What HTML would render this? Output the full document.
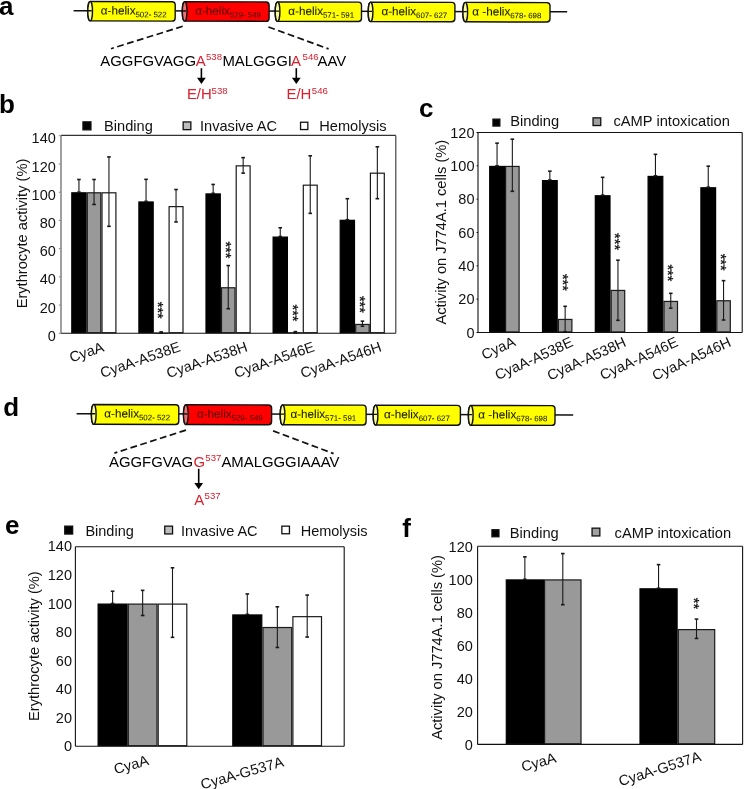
<!DOCTYPE html>
<html><head><meta charset="utf-8"><style>
html,body{margin:0;padding:0;background:#fff;}
svg{display:block;will-change:transform;}
text{font-family:"Liberation Sans", sans-serif;}
</style></head><body>
<svg width="744" height="789" viewBox="0 0 744 789">
<rect width="744" height="789" fill="#fff"/>
<g transform="rotate(0.14 87.8 10.7)">
<line x1="73.6" y1="10.7" x2="567.2" y2="10.7" stroke="#111" stroke-width="1.5"/>
<path d="M90.15,1.50 L172.00,1.50 Q175.20,1.50 175.20,4.70 L175.20,17.70 Q175.20,20.90 172.00,20.90 L90.15,20.90 A2.35,9.70 0 0 1 90.15,1.50 Z" fill="#ffff00" stroke="#111" stroke-width="1.4"/>
<ellipse cx="90.15" cy="11.20" rx="2.35" ry="9.70" fill="#ffff99" stroke="#111" stroke-width="1.4"/>
<line x1="86.80" y1="10.70" x2="91.70" y2="10.70" stroke="#111" stroke-width="1.4"/>
<path d="M184.65,1.50 L265.90,1.50 Q269.10,1.50 269.10,4.70 L269.10,17.70 Q269.10,20.90 265.90,20.90 L184.65,20.90 A2.35,9.70 0 0 1 184.65,1.50 Z" fill="#ff0000" stroke="#111" stroke-width="1.4"/>
<ellipse cx="184.65" cy="11.20" rx="2.35" ry="9.70" fill="#f07070" stroke="#111" stroke-width="1.4"/>
<line x1="181.30" y1="10.70" x2="186.20" y2="10.70" stroke="#111" stroke-width="1.4"/>
<path d="M277.55,1.50 L358.30,1.50 Q361.50,1.50 361.50,4.70 L361.50,17.70 Q361.50,20.90 358.30,20.90 L277.55,20.90 A2.35,9.70 0 0 1 277.55,1.50 Z" fill="#ffff00" stroke="#111" stroke-width="1.4"/>
<ellipse cx="277.55" cy="11.20" rx="2.35" ry="9.70" fill="#ffff99" stroke="#111" stroke-width="1.4"/>
<line x1="274.20" y1="10.70" x2="279.10" y2="10.70" stroke="#111" stroke-width="1.4"/>
<path d="M370.55,1.50 L451.70,1.50 Q454.90,1.50 454.90,4.70 L454.90,17.70 Q454.90,20.90 451.70,20.90 L370.55,20.90 A2.35,9.70 0 0 1 370.55,1.50 Z" fill="#ffff00" stroke="#111" stroke-width="1.4"/>
<ellipse cx="370.55" cy="11.20" rx="2.35" ry="9.70" fill="#ffff99" stroke="#111" stroke-width="1.4"/>
<line x1="367.20" y1="10.70" x2="372.10" y2="10.70" stroke="#111" stroke-width="1.4"/>
<path d="M465.25,1.50 L546.80,1.50 Q550.00,1.50 550.00,4.70 L550.00,17.70 Q550.00,20.90 546.80,20.90 L465.25,20.90 A2.35,9.70 0 0 1 465.25,1.50 Z" fill="#ffff00" stroke="#111" stroke-width="1.4"/>
<ellipse cx="465.25" cy="11.20" rx="2.35" ry="9.70" fill="#ffff99" stroke="#111" stroke-width="1.4"/>
<line x1="461.90" y1="10.70" x2="466.80" y2="10.70" stroke="#111" stroke-width="1.4"/>
<text x="100.8" y="14.5" font-size="11.7" fill="#1a1a00" stroke="#1a1a00" stroke-width="0.1">α-helix<tspan font-size="7.9" dy="2.7" stroke-width="0.05">502- 522</tspan></text>
<text x="195.2" y="14.5" font-size="11.7" fill="#5a0000" stroke="#5a0000" stroke-width="0.1">α-helix<tspan font-size="7.9" dy="2.7" stroke-width="0.05">529- 549</tspan></text>
<text x="288.3" y="14.5" font-size="11.7" fill="#1a1a00" stroke="#1a1a00" stroke-width="0.1">α-helix<tspan font-size="7.9" dy="2.7" stroke-width="0.05">571- 591</tspan></text>
<text x="381.4" y="14.5" font-size="11.7" fill="#1a1a00" stroke="#1a1a00" stroke-width="0.1">α-helix<tspan font-size="7.9" dy="2.7" stroke-width="0.05">607- 627</tspan></text>
<text x="472.3" y="14.5" font-size="11.7" fill="#1a1a00" stroke="#1a1a00" stroke-width="0.1">α -helix<tspan font-size="7.9" dy="2.7" stroke-width="0.05">678- 698</tspan></text>
</g>
<g transform="rotate(0.14 91.4 413.7)">
<line x1="76.6" y1="413.7" x2="573.2" y2="413.7" stroke="#111" stroke-width="1.5"/>
<path d="M93.75,404.50 L175.60,404.50 Q178.80,404.50 178.80,407.70 L178.80,421.10 Q178.80,424.30 175.60,424.30 L93.75,424.30 A2.35,9.90 0 0 1 93.75,404.50 Z" fill="#ffff00" stroke="#111" stroke-width="1.4"/>
<ellipse cx="93.75" cy="414.40" rx="2.35" ry="9.90" fill="#ffff99" stroke="#111" stroke-width="1.4"/>
<line x1="90.40" y1="413.70" x2="95.30" y2="413.70" stroke="#111" stroke-width="1.4"/>
<path d="M185.85,404.50 L268.40,404.50 Q271.60,404.50 271.60,407.70 L271.60,421.10 Q271.60,424.30 268.40,424.30 L185.85,424.30 A2.35,9.90 0 0 1 185.85,404.50 Z" fill="#ff0000" stroke="#111" stroke-width="1.4"/>
<ellipse cx="185.85" cy="414.40" rx="2.35" ry="9.90" fill="#f07070" stroke="#111" stroke-width="1.4"/>
<line x1="182.50" y1="413.70" x2="187.40" y2="413.70" stroke="#111" stroke-width="1.4"/>
<path d="M282.55,404.50 L362.90,404.50 Q366.10,404.50 366.10,407.70 L366.10,421.10 Q366.10,424.30 362.90,424.30 L282.55,424.30 A2.35,9.90 0 0 1 282.55,404.50 Z" fill="#ffff00" stroke="#111" stroke-width="1.4"/>
<ellipse cx="282.55" cy="414.40" rx="2.35" ry="9.90" fill="#ffff99" stroke="#111" stroke-width="1.4"/>
<line x1="279.20" y1="413.70" x2="284.10" y2="413.70" stroke="#111" stroke-width="1.4"/>
<path d="M375.55,404.50 L457.20,404.50 Q460.40,404.50 460.40,407.70 L460.40,421.10 Q460.40,424.30 457.20,424.30 L375.55,424.30 A2.35,9.90 0 0 1 375.55,404.50 Z" fill="#ffff00" stroke="#111" stroke-width="1.4"/>
<ellipse cx="375.55" cy="414.40" rx="2.35" ry="9.90" fill="#ffff99" stroke="#111" stroke-width="1.4"/>
<line x1="372.20" y1="413.70" x2="377.10" y2="413.70" stroke="#111" stroke-width="1.4"/>
<path d="M470.75,404.50 L551.80,404.50 Q555.00,404.50 555.00,407.70 L555.00,421.10 Q555.00,424.30 551.80,424.30 L470.75,424.30 A2.35,9.90 0 0 1 470.75,404.50 Z" fill="#ffff00" stroke="#111" stroke-width="1.4"/>
<ellipse cx="470.75" cy="414.40" rx="2.35" ry="9.90" fill="#ffff99" stroke="#111" stroke-width="1.4"/>
<line x1="467.40" y1="413.70" x2="472.30" y2="413.70" stroke="#111" stroke-width="1.4"/>
<text x="104.3" y="417.5" font-size="11.7" fill="#1a1a00" stroke="#1a1a00" stroke-width="0.1">α-helix<tspan font-size="7.9" dy="2.7" stroke-width="0.05">502- 522</tspan></text>
<text x="196.9" y="417.5" font-size="11.7" fill="#5a0000" stroke="#5a0000" stroke-width="0.1">α-helix<tspan font-size="7.9" dy="2.7" stroke-width="0.05">529- 549</tspan></text>
<text x="290.4" y="417.5" font-size="11.7" fill="#1a1a00" stroke="#1a1a00" stroke-width="0.1">α-helix<tspan font-size="7.9" dy="2.7" stroke-width="0.05">571- 591</tspan></text>
<text x="384.0" y="417.5" font-size="11.7" fill="#1a1a00" stroke="#1a1a00" stroke-width="0.1">α-helix<tspan font-size="7.9" dy="2.7" stroke-width="0.05">607- 627</tspan></text>
<text x="478.3" y="417.5" font-size="11.7" fill="#1a1a00" stroke="#1a1a00" stroke-width="0.1">α -helix<tspan font-size="7.9" dy="2.7" stroke-width="0.05">678- 698</tspan></text>
</g>
<g stroke="#111" stroke-width="1.7" stroke-dasharray="6.8,3.5">
<line x1="182.7" y1="26.3" x2="111.0" y2="48.7"/>
<line x1="268.4" y1="27.0" x2="328.6" y2="48.9"/>
<line x1="186.0" y1="430.1" x2="114.4" y2="453.1"/>
<line x1="273.1" y1="430.9" x2="333.6" y2="453.6"/>
</g>
<text x="100.30" y="66.10" font-size="14.9" fill="#000" text-anchor="start" font-weight="normal" >AGGFGVAGG</text>
<text x="195.80" y="66.10" font-size="14.9" fill="#d8202e" text-anchor="start" font-weight="normal" >A</text>
<text x="206.00" y="59.90" font-size="9.6" fill="#d8202e" text-anchor="start" font-weight="normal" >538</text>
<text x="222.40" y="66.10" font-size="14.9" fill="#000" text-anchor="start" font-weight="normal" >MALGGGI</text>
<text x="291.00" y="66.10" font-size="14.9" fill="#d8202e" text-anchor="start" font-weight="normal" >A</text>
<text x="302.60" y="59.90" font-size="9.6" fill="#d8202e" text-anchor="start" font-weight="normal" >546</text>
<text x="317.60" y="66.10" font-size="14.9" fill="#000" text-anchor="start" font-weight="normal" >AAV</text>
<line x1="201.4" y1="68.2" x2="201.4" y2="79.0" stroke="#000" stroke-width="1.6"/>
<path d="M197.0,77.8 L205.8,77.8 L201.4,84.0 Z" fill="#000"/>
<line x1="296.3" y1="68.2" x2="296.3" y2="79.0" stroke="#000" stroke-width="1.6"/>
<path d="M291.90000000000003,77.8 L300.7,77.8 L296.3,84.0 Z" fill="#000"/>
<text x="186.90" y="99.30" font-size="14.9" fill="#d8202e" text-anchor="start" font-weight="normal" >E/H</text>
<text x="211.60" y="93.60" font-size="9.6" fill="#d8202e" text-anchor="start" font-weight="normal" >538</text>
<text x="286.50" y="99.30" font-size="14.9" fill="#d8202e" text-anchor="start" font-weight="normal" >E/H</text>
<text x="311.80" y="93.60" font-size="9.6" fill="#d8202e" text-anchor="start" font-weight="normal" >546</text>
<text x="109.00" y="466.70" font-size="14.9" fill="#000" text-anchor="start" font-weight="normal" >AGGFGVAG</text>
<text x="193.40" y="466.70" font-size="14.9" fill="#d8202e" text-anchor="start" font-weight="normal" >G</text>
<text x="205.30" y="461.20" font-size="9.6" fill="#d8202e" text-anchor="start" font-weight="normal" >537</text>
<text x="221.40" y="466.70" font-size="14.9" fill="#000" text-anchor="start" font-weight="normal" >AMALGGGIAAAV</text>
<line x1="198.7" y1="468.8" x2="198.7" y2="484.3" stroke="#000" stroke-width="1.6"/>
<path d="M194.29999999999998,483.1 L203.1,483.1 L198.7,489.3 Z" fill="#000"/>
<text x="194.20" y="504.70" font-size="14.9" fill="#d8202e" text-anchor="start" font-weight="normal" >A</text>
<text x="204.60" y="499.40" font-size="9.6" fill="#d8202e" text-anchor="start" font-weight="normal" >537</text>
<text x="-0.90" y="14.90" font-size="26" fill="#000" text-anchor="start" font-weight="bold" >a</text>
<text x="-0.90" y="113.30" font-size="26" fill="#000" text-anchor="start" font-weight="bold" >b</text>
<text x="419.00" y="116.60" font-size="26" fill="#000" text-anchor="start" font-weight="bold" >c</text>
<text x="3.20" y="415.60" font-size="26" fill="#000" text-anchor="start" font-weight="bold" >d</text>
<text x="5.00" y="534.40" font-size="26" fill="#000" text-anchor="start" font-weight="bold" >e</text>
<text x="402.30" y="537.40" font-size="26" fill="#000" text-anchor="start" font-weight="bold" >f</text>
<rect x="71.80" y="192.80" width="14.30" height="139.90" fill="#000" stroke="#000" stroke-width="1.2"/>
<rect x="87.30" y="192.80" width="13.50" height="139.90" fill="#999999" stroke="#1a1a1a" stroke-width="1.2"/>
<rect x="102.00" y="192.80" width="13.90" height="139.90" fill="#fff" stroke="#1a1a1a" stroke-width="1.2"/>
<line x1="78.95" y1="179.50" x2="78.95" y2="192.20" stroke="#1a1a1a" stroke-width="1.1"/>
<line x1="77.15" y1="179.50" x2="80.75" y2="179.50" stroke="#1a1a1a" stroke-width="1.6"/>
<line x1="77.15" y1="192.20" x2="80.75" y2="192.20" stroke="#1a1a1a" stroke-width="1.6"/>
<line x1="94.05" y1="179.50" x2="94.05" y2="204.48" stroke="#1a1a1a" stroke-width="1.1"/>
<line x1="92.25" y1="179.50" x2="95.85" y2="179.50" stroke="#1a1a1a" stroke-width="1.6"/>
<line x1="92.25" y1="204.48" x2="95.85" y2="204.48" stroke="#1a1a1a" stroke-width="1.6"/>
<line x1="108.95" y1="156.93" x2="108.95" y2="226.35" stroke="#1a1a1a" stroke-width="1.1"/>
<line x1="107.15" y1="156.93" x2="110.75" y2="156.93" stroke="#1a1a1a" stroke-width="1.6"/>
<line x1="107.15" y1="226.35" x2="110.75" y2="226.35" stroke="#1a1a1a" stroke-width="1.6"/>
<rect x="138.90" y="201.97" width="14.30" height="130.73" fill="#000" stroke="#000" stroke-width="1.2"/>
<rect x="154.40" y="333.05" width="13.50" height="0.01" fill="#999999" stroke="#1a1a1a" stroke-width="1.2"/>
<rect x="169.10" y="206.63" width="13.90" height="126.07" fill="#fff" stroke="#1a1a1a" stroke-width="1.2"/>
<line x1="146.05" y1="179.36" x2="146.05" y2="201.37" stroke="#1a1a1a" stroke-width="1.1"/>
<line x1="144.25" y1="179.36" x2="147.85" y2="179.36" stroke="#1a1a1a" stroke-width="1.6"/>
<line x1="144.25" y1="201.37" x2="147.85" y2="201.37" stroke="#1a1a1a" stroke-width="1.6"/>
<line x1="161.15" y1="331.89" x2="161.15" y2="333.02" stroke="#1a1a1a" stroke-width="1.1"/>
<line x1="159.35" y1="331.89" x2="162.95" y2="331.89" stroke="#1a1a1a" stroke-width="1.6"/>
<line x1="159.35" y1="333.02" x2="162.95" y2="333.02" stroke="#1a1a1a" stroke-width="1.6"/>
<line x1="176.05" y1="189.52" x2="176.05" y2="221.97" stroke="#1a1a1a" stroke-width="1.1"/>
<line x1="174.25" y1="189.52" x2="177.85" y2="189.52" stroke="#1a1a1a" stroke-width="1.6"/>
<line x1="174.25" y1="221.97" x2="177.85" y2="221.97" stroke="#1a1a1a" stroke-width="1.6"/>
<rect x="206.00" y="193.93" width="14.30" height="138.77" fill="#000" stroke="#000" stroke-width="1.2"/>
<rect x="221.50" y="287.76" width="13.50" height="44.94" fill="#999999" stroke="#1a1a1a" stroke-width="1.2"/>
<rect x="236.20" y="165.85" width="13.90" height="166.85" fill="#fff" stroke="#1a1a1a" stroke-width="1.2"/>
<line x1="213.15" y1="184.44" x2="213.15" y2="193.33" stroke="#1a1a1a" stroke-width="1.1"/>
<line x1="211.35" y1="184.44" x2="214.95" y2="184.44" stroke="#1a1a1a" stroke-width="1.6"/>
<line x1="211.35" y1="193.33" x2="214.95" y2="193.33" stroke="#1a1a1a" stroke-width="1.6"/>
<line x1="228.25" y1="265.57" x2="228.25" y2="308.75" stroke="#1a1a1a" stroke-width="1.1"/>
<line x1="226.45" y1="265.57" x2="230.05" y2="265.57" stroke="#1a1a1a" stroke-width="1.6"/>
<line x1="226.45" y1="308.75" x2="230.05" y2="308.75" stroke="#1a1a1a" stroke-width="1.6"/>
<line x1="243.15" y1="157.63" x2="243.15" y2="173.15" stroke="#1a1a1a" stroke-width="1.1"/>
<line x1="241.35" y1="157.63" x2="244.95" y2="157.63" stroke="#1a1a1a" stroke-width="1.6"/>
<line x1="241.35" y1="173.15" x2="244.95" y2="173.15" stroke="#1a1a1a" stroke-width="1.6"/>
<rect x="273.10" y="237.11" width="14.30" height="95.59" fill="#000" stroke="#000" stroke-width="1.2"/>
<rect x="288.60" y="332.77" width="13.50" height="0.01" fill="#999999" stroke="#1a1a1a" stroke-width="1.2"/>
<rect x="303.30" y="185.18" width="13.90" height="147.52" fill="#fff" stroke="#1a1a1a" stroke-width="1.2"/>
<line x1="280.25" y1="227.76" x2="280.25" y2="236.51" stroke="#1a1a1a" stroke-width="1.1"/>
<line x1="278.45" y1="227.76" x2="282.05" y2="227.76" stroke="#1a1a1a" stroke-width="1.6"/>
<line x1="278.45" y1="236.51" x2="282.05" y2="236.51" stroke="#1a1a1a" stroke-width="1.6"/>
<line x1="295.35" y1="331.61" x2="295.35" y2="332.88" stroke="#1a1a1a" stroke-width="1.1"/>
<line x1="293.55" y1="331.61" x2="297.15" y2="331.61" stroke="#1a1a1a" stroke-width="1.6"/>
<line x1="293.55" y1="332.88" x2="297.15" y2="332.88" stroke="#1a1a1a" stroke-width="1.6"/>
<line x1="310.25" y1="155.80" x2="310.25" y2="213.37" stroke="#1a1a1a" stroke-width="1.1"/>
<line x1="308.45" y1="155.80" x2="312.05" y2="155.80" stroke="#1a1a1a" stroke-width="1.6"/>
<line x1="308.45" y1="213.37" x2="312.05" y2="213.37" stroke="#1a1a1a" stroke-width="1.6"/>
<rect x="340.20" y="220.31" width="14.30" height="112.39" fill="#000" stroke="#000" stroke-width="1.2"/>
<rect x="355.70" y="324.45" width="13.50" height="8.25" fill="#999999" stroke="#1a1a1a" stroke-width="1.2"/>
<rect x="370.40" y="173.19" width="13.90" height="159.51" fill="#fff" stroke="#1a1a1a" stroke-width="1.2"/>
<line x1="347.35" y1="198.69" x2="347.35" y2="219.71" stroke="#1a1a1a" stroke-width="1.1"/>
<line x1="345.55" y1="198.69" x2="349.15" y2="198.69" stroke="#1a1a1a" stroke-width="1.6"/>
<line x1="345.55" y1="219.71" x2="349.15" y2="219.71" stroke="#1a1a1a" stroke-width="1.6"/>
<line x1="362.45" y1="321.17" x2="362.45" y2="326.25" stroke="#1a1a1a" stroke-width="1.1"/>
<line x1="360.65" y1="321.17" x2="364.25" y2="321.17" stroke="#1a1a1a" stroke-width="1.6"/>
<line x1="360.65" y1="326.25" x2="364.25" y2="326.25" stroke="#1a1a1a" stroke-width="1.6"/>
<line x1="377.35" y1="146.77" x2="377.35" y2="198.69" stroke="#1a1a1a" stroke-width="1.1"/>
<line x1="375.55" y1="146.77" x2="379.15" y2="146.77" stroke="#1a1a1a" stroke-width="1.6"/>
<line x1="375.55" y1="198.69" x2="379.15" y2="198.69" stroke="#1a1a1a" stroke-width="1.6"/>
<line x1="61.0" y1="333.3" x2="395.8" y2="333.3" stroke="#111" stroke-width="1.1"/>
<line x1="61.0" y1="135.4" x2="395.8" y2="135.4" stroke="#333" stroke-width="1.1"/>
<line x1="395.8" y1="135.4" x2="395.8" y2="333.3" stroke="#333" stroke-width="1.1"/>
<line x1="61.0" y1="135.4" x2="61.0" y2="333.3" stroke="#888" stroke-width="1.6"/>
<line x1="58.8" y1="333.30" x2="61.0" y2="333.30" stroke="#888" stroke-width="1"/>
<text x="55.80" y="340.90" font-size="14.5" fill="#111" text-anchor="end" font-weight="normal" >0</text>
<line x1="58.8" y1="305.08" x2="61.0" y2="305.08" stroke="#888" stroke-width="1"/>
<text x="55.80" y="312.68" font-size="14.5" fill="#111" text-anchor="end" font-weight="normal" >20</text>
<line x1="58.8" y1="276.86" x2="61.0" y2="276.86" stroke="#888" stroke-width="1"/>
<text x="55.80" y="284.46" font-size="14.5" fill="#111" text-anchor="end" font-weight="normal" >40</text>
<line x1="58.8" y1="248.64" x2="61.0" y2="248.64" stroke="#888" stroke-width="1"/>
<text x="55.80" y="256.24" font-size="14.5" fill="#111" text-anchor="end" font-weight="normal" >60</text>
<line x1="58.8" y1="220.42" x2="61.0" y2="220.42" stroke="#888" stroke-width="1"/>
<text x="55.80" y="228.02" font-size="14.5" fill="#111" text-anchor="end" font-weight="normal" >80</text>
<line x1="58.8" y1="192.20" x2="61.0" y2="192.20" stroke="#888" stroke-width="1"/>
<text x="55.80" y="199.80" font-size="14.5" fill="#111" text-anchor="end" font-weight="normal" >100</text>
<line x1="58.8" y1="163.98" x2="61.0" y2="163.98" stroke="#888" stroke-width="1"/>
<text x="55.80" y="171.58" font-size="14.5" fill="#111" text-anchor="end" font-weight="normal" >120</text>
<line x1="58.8" y1="135.76" x2="61.0" y2="135.76" stroke="#888" stroke-width="1"/>
<text x="55.80" y="143.36" font-size="14.5" fill="#111" text-anchor="end" font-weight="normal" >140</text>
<text x="0" y="0" font-size="14.65" fill="#111" text-anchor="middle" transform="translate(26.6,233.5) rotate(-90)">Erythrocyte activity (%)</text>
<text x="0" y="0" font-size="14.5" fill="#111" text-anchor="end" transform="translate(105,351) rotate(-19)">CyaA</text>
<text x="0" y="0" font-size="14.5" fill="#111" text-anchor="end" transform="translate(181.5,350.8) rotate(-19)">CyaA-A538E</text>
<text x="0" y="0" font-size="14.5" fill="#111" text-anchor="end" transform="translate(248.5,350.8) rotate(-19)">CyaA-A538H</text>
<text x="0" y="0" font-size="14.5" fill="#111" text-anchor="end" transform="translate(315.5,350.8) rotate(-19)">CyaA-A546E</text>
<text x="0" y="0" font-size="14.5" fill="#111" text-anchor="end" transform="translate(382.5,350.8) rotate(-19)">CyaA-A546H</text>
<rect x="82.95" y="121.85" width="8.00" height="8.00" fill="#000" stroke="#111" stroke-width="1.3"/>
<text x="104.10" y="130.80" font-size="14.6" fill="#111" text-anchor="start" font-weight="normal" >Binding</text>
<rect x="183.15" y="121.95" width="7.70" height="7.70" fill="#bdbdbd" stroke="#111" stroke-width="1.3"/>
<text x="200.00" y="130.80" font-size="14.6" fill="#111" text-anchor="start" font-weight="normal" >Invasive AC</text>
<rect x="300.55" y="122.25" width="7.30" height="7.30" fill="#fff" stroke="#111" stroke-width="1.3"/>
<text x="319.30" y="130.80" font-size="14.6" fill="#111" text-anchor="start" font-weight="normal" >Hemolysis</text>
<text x="0" y="0" font-size="14.5" fill="#111" stroke="#111" stroke-width="0.3" transform="translate(153.36,301.80) rotate(90)">***</text>
<text x="0" y="0" font-size="14.5" fill="#111" stroke="#111" stroke-width="0.3" transform="translate(220.56,241.40) rotate(90)">***</text>
<text x="0" y="0" font-size="14.5" fill="#111" stroke="#111" stroke-width="0.3" transform="translate(288.06,304.50) rotate(90)">***</text>
<text x="0" y="0" font-size="14.5" fill="#111" stroke="#111" stroke-width="0.3" transform="translate(354.66,295.90) rotate(90)">***</text>
<rect x="489.70" y="166.43" width="14.70" height="165.47" fill="#000" stroke="#000" stroke-width="1.2"/>
<rect x="505.60" y="166.43" width="13.50" height="165.47" fill="#999999" stroke="#1a1a1a" stroke-width="1.2"/>
<line x1="497.05" y1="143.17" x2="497.05" y2="165.83" stroke="#1a1a1a" stroke-width="1.1"/>
<line x1="495.25" y1="143.17" x2="498.85" y2="143.17" stroke="#1a1a1a" stroke-width="1.6"/>
<line x1="495.25" y1="165.83" x2="498.85" y2="165.83" stroke="#1a1a1a" stroke-width="1.6"/>
<line x1="512.35" y1="139.17" x2="512.35" y2="191.33" stroke="#1a1a1a" stroke-width="1.1"/>
<line x1="510.55" y1="139.17" x2="514.15" y2="139.17" stroke="#1a1a1a" stroke-width="1.6"/>
<line x1="510.55" y1="191.33" x2="514.15" y2="191.33" stroke="#1a1a1a" stroke-width="1.6"/>
<rect x="542.50" y="180.60" width="14.70" height="151.30" fill="#000" stroke="#000" stroke-width="1.2"/>
<rect x="558.40" y="319.43" width="13.50" height="12.47" fill="#999999" stroke="#1a1a1a" stroke-width="1.2"/>
<line x1="549.85" y1="171.17" x2="549.85" y2="180.00" stroke="#1a1a1a" stroke-width="1.1"/>
<line x1="548.05" y1="171.17" x2="551.65" y2="171.17" stroke="#1a1a1a" stroke-width="1.6"/>
<line x1="548.05" y1="180.00" x2="551.65" y2="180.00" stroke="#1a1a1a" stroke-width="1.6"/>
<line x1="565.15" y1="306.33" x2="565.15" y2="331.67" stroke="#1a1a1a" stroke-width="1.1"/>
<line x1="563.35" y1="306.33" x2="566.95" y2="306.33" stroke="#1a1a1a" stroke-width="1.6"/>
<line x1="563.35" y1="331.67" x2="566.95" y2="331.67" stroke="#1a1a1a" stroke-width="1.6"/>
<rect x="595.30" y="195.77" width="14.70" height="136.13" fill="#000" stroke="#000" stroke-width="1.2"/>
<rect x="611.20" y="290.43" width="13.50" height="41.47" fill="#999999" stroke="#1a1a1a" stroke-width="1.2"/>
<line x1="602.65" y1="177.33" x2="602.65" y2="195.17" stroke="#1a1a1a" stroke-width="1.1"/>
<line x1="600.85" y1="177.33" x2="604.45" y2="177.33" stroke="#1a1a1a" stroke-width="1.6"/>
<line x1="600.85" y1="195.17" x2="604.45" y2="195.17" stroke="#1a1a1a" stroke-width="1.6"/>
<line x1="617.95" y1="260.17" x2="617.95" y2="320.33" stroke="#1a1a1a" stroke-width="1.1"/>
<line x1="616.15" y1="260.17" x2="619.75" y2="260.17" stroke="#1a1a1a" stroke-width="1.6"/>
<line x1="616.15" y1="320.33" x2="619.75" y2="320.33" stroke="#1a1a1a" stroke-width="1.6"/>
<rect x="648.10" y="176.43" width="14.70" height="155.47" fill="#000" stroke="#000" stroke-width="1.2"/>
<rect x="664.00" y="301.43" width="13.50" height="30.47" fill="#999999" stroke="#1a1a1a" stroke-width="1.2"/>
<line x1="655.45" y1="154.33" x2="655.45" y2="175.83" stroke="#1a1a1a" stroke-width="1.1"/>
<line x1="653.65" y1="154.33" x2="657.25" y2="154.33" stroke="#1a1a1a" stroke-width="1.6"/>
<line x1="653.65" y1="175.83" x2="657.25" y2="175.83" stroke="#1a1a1a" stroke-width="1.6"/>
<line x1="670.75" y1="293.33" x2="670.75" y2="308.17" stroke="#1a1a1a" stroke-width="1.1"/>
<line x1="668.95" y1="293.33" x2="672.55" y2="293.33" stroke="#1a1a1a" stroke-width="1.6"/>
<line x1="668.95" y1="308.17" x2="672.55" y2="308.17" stroke="#1a1a1a" stroke-width="1.6"/>
<rect x="700.90" y="187.77" width="14.70" height="144.13" fill="#000" stroke="#000" stroke-width="1.2"/>
<rect x="716.80" y="300.77" width="13.50" height="31.13" fill="#999999" stroke="#1a1a1a" stroke-width="1.2"/>
<line x1="708.25" y1="166.17" x2="708.25" y2="187.17" stroke="#1a1a1a" stroke-width="1.1"/>
<line x1="706.45" y1="166.17" x2="710.05" y2="166.17" stroke="#1a1a1a" stroke-width="1.6"/>
<line x1="706.45" y1="187.17" x2="710.05" y2="187.17" stroke="#1a1a1a" stroke-width="1.6"/>
<line x1="723.55" y1="280.67" x2="723.55" y2="320.00" stroke="#1a1a1a" stroke-width="1.1"/>
<line x1="721.75" y1="280.67" x2="725.35" y2="280.67" stroke="#1a1a1a" stroke-width="1.6"/>
<line x1="721.75" y1="320.00" x2="725.35" y2="320.00" stroke="#1a1a1a" stroke-width="1.6"/>
<line x1="478.0" y1="332.5" x2="742.2" y2="332.5" stroke="#111" stroke-width="1.1"/>
<line x1="478.0" y1="132.5" x2="742.2" y2="132.5" stroke="#111" stroke-width="1.1"/>
<line x1="742.2" y1="132.5" x2="742.2" y2="332.5" stroke="#111" stroke-width="1.1"/>
<line x1="478.0" y1="132.5" x2="478.0" y2="332.5" stroke="#111" stroke-width="1.1"/>
<line x1="476.5" y1="332.50" x2="478.0" y2="332.50" stroke="#111" stroke-width="1"/>
<text x="474.50" y="337.50" font-size="14.5" fill="#111" text-anchor="end" font-weight="normal" >0</text>
<line x1="476.5" y1="299.17" x2="478.0" y2="299.17" stroke="#111" stroke-width="1"/>
<text x="474.50" y="304.17" font-size="14.5" fill="#111" text-anchor="end" font-weight="normal" >20</text>
<line x1="476.5" y1="265.83" x2="478.0" y2="265.83" stroke="#111" stroke-width="1"/>
<text x="474.50" y="270.83" font-size="14.5" fill="#111" text-anchor="end" font-weight="normal" >40</text>
<line x1="476.5" y1="232.50" x2="478.0" y2="232.50" stroke="#111" stroke-width="1"/>
<text x="474.50" y="237.50" font-size="14.5" fill="#111" text-anchor="end" font-weight="normal" >60</text>
<line x1="476.5" y1="199.17" x2="478.0" y2="199.17" stroke="#111" stroke-width="1"/>
<text x="474.50" y="204.17" font-size="14.5" fill="#111" text-anchor="end" font-weight="normal" >80</text>
<line x1="476.5" y1="165.83" x2="478.0" y2="165.83" stroke="#111" stroke-width="1"/>
<text x="474.50" y="170.83" font-size="14.5" fill="#111" text-anchor="end" font-weight="normal" >100</text>
<line x1="476.5" y1="132.50" x2="478.0" y2="132.50" stroke="#111" stroke-width="1"/>
<text x="474.50" y="137.50" font-size="14.5" fill="#111" text-anchor="end" font-weight="normal" >120</text>
<text x="0" y="0" font-size="14.65" fill="#111" text-anchor="middle" transform="translate(446.0,232.2) rotate(-90)">Activity on J774A.1 cells (%)</text>
<text x="0" y="0" font-size="14.5" fill="#111" text-anchor="end" transform="translate(516.5,345.2) rotate(-24.5)">CyaA</text>
<text x="0" y="0" font-size="14.5" fill="#111" text-anchor="end" transform="translate(574,345.6) rotate(-24.5)">CyaA-A538E</text>
<text x="0" y="0" font-size="14.5" fill="#111" text-anchor="end" transform="translate(627,345.6) rotate(-24.5)">CyaA-A538H</text>
<text x="0" y="0" font-size="14.5" fill="#111" text-anchor="end" transform="translate(679,345.6) rotate(-24.5)">CyaA-A546E</text>
<text x="0" y="0" font-size="14.5" fill="#111" text-anchor="end" transform="translate(732,345.6) rotate(-24.5)">CyaA-A546H</text>
<rect x="492.95" y="119.15" width="6.90" height="6.90" fill="#000" stroke="#111" stroke-width="1.3"/>
<text x="510.20" y="126.40" font-size="14.7" fill="#111" text-anchor="start" font-weight="normal" >Binding</text>
<rect x="593.05" y="117.85" width="7.70" height="7.70" fill="#a0a0a0" stroke="#111" stroke-width="1.3"/>
<text x="613.40" y="126.40" font-size="14.7" fill="#111" text-anchor="start" font-weight="normal" >cAMP intoxication</text>
<text x="0" y="0" font-size="14.5" fill="#111" stroke="#111" stroke-width="0.3" transform="translate(558.36,273.90) rotate(90)">***</text>
<text x="0" y="0" font-size="14.5" fill="#111" stroke="#111" stroke-width="0.3" transform="translate(609.86,233.10) rotate(90)">***</text>
<text x="0" y="0" font-size="14.5" fill="#111" stroke="#111" stroke-width="0.3" transform="translate(662.56,264.40) rotate(90)">***</text>
<text x="0" y="0" font-size="14.5" fill="#111" stroke="#111" stroke-width="0.3" transform="translate(715.96,253.70) rotate(90)">***</text>
<rect x="98.10" y="604.10" width="29.00" height="141.60" fill="#000" stroke="#000" stroke-width="1.2"/>
<rect x="128.30" y="604.10" width="28.70" height="141.60" fill="#999999" stroke="#1a1a1a" stroke-width="1.2"/>
<rect x="158.20" y="604.10" width="28.60" height="141.60" fill="#fff" stroke="#1a1a1a" stroke-width="1.2"/>
<line x1="112.60" y1="591.22" x2="112.60" y2="603.50" stroke="#1a1a1a" stroke-width="1.1"/>
<line x1="110.80" y1="591.22" x2="114.40" y2="591.22" stroke="#1a1a1a" stroke-width="1.6"/>
<line x1="110.80" y1="603.50" x2="114.40" y2="603.50" stroke="#1a1a1a" stroke-width="1.6"/>
<line x1="142.65" y1="590.36" x2="142.65" y2="615.50" stroke="#1a1a1a" stroke-width="1.1"/>
<line x1="140.85" y1="590.36" x2="144.45" y2="590.36" stroke="#1a1a1a" stroke-width="1.6"/>
<line x1="140.85" y1="615.50" x2="144.45" y2="615.50" stroke="#1a1a1a" stroke-width="1.6"/>
<line x1="172.50" y1="567.80" x2="172.50" y2="637.34" stroke="#1a1a1a" stroke-width="1.1"/>
<line x1="170.70" y1="567.80" x2="174.30" y2="567.80" stroke="#1a1a1a" stroke-width="1.6"/>
<line x1="170.70" y1="637.34" x2="174.30" y2="637.34" stroke="#1a1a1a" stroke-width="1.6"/>
<rect x="232.80" y="614.95" width="29.00" height="130.75" fill="#000" stroke="#000" stroke-width="1.2"/>
<rect x="263.00" y="627.52" width="28.70" height="118.18" fill="#999999" stroke="#1a1a1a" stroke-width="1.2"/>
<rect x="292.90" y="616.67" width="28.60" height="129.03" fill="#fff" stroke="#1a1a1a" stroke-width="1.2"/>
<line x1="247.30" y1="593.93" x2="247.30" y2="614.35" stroke="#1a1a1a" stroke-width="1.1"/>
<line x1="245.50" y1="593.93" x2="249.10" y2="593.93" stroke="#1a1a1a" stroke-width="1.6"/>
<line x1="245.50" y1="614.35" x2="249.10" y2="614.35" stroke="#1a1a1a" stroke-width="1.6"/>
<line x1="277.35" y1="606.78" x2="277.35" y2="647.48" stroke="#1a1a1a" stroke-width="1.1"/>
<line x1="275.55" y1="606.78" x2="279.15" y2="606.78" stroke="#1a1a1a" stroke-width="1.6"/>
<line x1="275.55" y1="647.48" x2="279.15" y2="647.48" stroke="#1a1a1a" stroke-width="1.6"/>
<line x1="307.20" y1="595.07" x2="307.20" y2="637.06" stroke="#1a1a1a" stroke-width="1.1"/>
<line x1="305.40" y1="595.07" x2="309.00" y2="595.07" stroke="#1a1a1a" stroke-width="1.6"/>
<line x1="305.40" y1="637.06" x2="309.00" y2="637.06" stroke="#1a1a1a" stroke-width="1.6"/>
<line x1="75.4" y1="746.3" x2="344.2" y2="746.3" stroke="#111" stroke-width="1.1"/>
<line x1="75.4" y1="546.8" x2="344.2" y2="546.8" stroke="#111" stroke-width="1.1"/>
<line x1="344.2" y1="546.8" x2="344.2" y2="746.3" stroke="#111" stroke-width="1.1"/>
<line x1="75.4" y1="546.8" x2="75.4" y2="746.3" stroke="#111" stroke-width="1.1"/>
<text x="72.00" y="751.30" font-size="14.5" fill="#111" text-anchor="end" font-weight="normal" >0</text>
<text x="72.00" y="722.74" font-size="14.5" fill="#111" text-anchor="end" font-weight="normal" >20</text>
<text x="72.00" y="694.18" font-size="14.5" fill="#111" text-anchor="end" font-weight="normal" >40</text>
<text x="72.00" y="665.62" font-size="14.5" fill="#111" text-anchor="end" font-weight="normal" >60</text>
<text x="72.00" y="637.06" font-size="14.5" fill="#111" text-anchor="end" font-weight="normal" >80</text>
<text x="72.00" y="608.50" font-size="14.5" fill="#111" text-anchor="end" font-weight="normal" >100</text>
<text x="72.00" y="579.94" font-size="14.5" fill="#111" text-anchor="end" font-weight="normal" >120</text>
<text x="72.00" y="551.38" font-size="14.5" fill="#111" text-anchor="end" font-weight="normal" >140</text>
<text x="0" y="0" font-size="14.65" fill="#111" text-anchor="middle" transform="translate(39.4,646.1) rotate(-90)">Erythrocyte activity (%)</text>
<text x="0" y="0" font-size="14.5" fill="#111" text-anchor="end" transform="translate(149.5,764.5) rotate(-16)">CyaA</text>
<text x="0" y="0" font-size="14.5" fill="#111" text-anchor="end" transform="translate(284.5,766.0) rotate(-16)">CyaA-G537A</text>
<rect x="64.75" y="526.15" width="7.90" height="7.90" fill="#000" stroke="#111" stroke-width="1.3"/>
<text x="85.40" y="535.50" font-size="14.5" fill="#111" text-anchor="start" font-weight="normal" >Binding</text>
<rect x="164.75" y="526.15" width="7.80" height="7.80" fill="#bdbdbd" stroke="#111" stroke-width="1.3"/>
<text x="181.00" y="535.50" font-size="14.5" fill="#111" text-anchor="start" font-weight="normal" >Invasive AC</text>
<rect x="281.85" y="526.15" width="7.60" height="7.60" fill="#fff" stroke="#111" stroke-width="1.3"/>
<text x="300.70" y="535.50" font-size="14.5" fill="#111" text-anchor="start" font-weight="normal" >Hemolysis</text>
<rect x="506.30" y="579.92" width="37.10" height="163.88" fill="#000" stroke="#000" stroke-width="1.2"/>
<rect x="544.60" y="579.92" width="36.40" height="163.88" fill="#999999" stroke="#1a1a1a" stroke-width="1.2"/>
<line x1="524.85" y1="556.87" x2="524.85" y2="579.32" stroke="#1a1a1a" stroke-width="1.1"/>
<line x1="523.05" y1="556.87" x2="526.65" y2="556.87" stroke="#1a1a1a" stroke-width="1.6"/>
<line x1="523.05" y1="579.32" x2="526.65" y2="579.32" stroke="#1a1a1a" stroke-width="1.6"/>
<line x1="562.80" y1="553.56" x2="562.80" y2="604.74" stroke="#1a1a1a" stroke-width="1.1"/>
<line x1="561.00" y1="553.56" x2="564.60" y2="553.56" stroke="#1a1a1a" stroke-width="1.6"/>
<line x1="561.00" y1="604.74" x2="564.60" y2="604.74" stroke="#1a1a1a" stroke-width="1.6"/>
<rect x="640.00" y="588.83" width="37.10" height="154.97" fill="#000" stroke="#000" stroke-width="1.2"/>
<rect x="678.30" y="629.61" width="36.40" height="114.19" fill="#999999" stroke="#1a1a1a" stroke-width="1.2"/>
<line x1="658.55" y1="564.62" x2="658.55" y2="588.23" stroke="#1a1a1a" stroke-width="1.1"/>
<line x1="656.75" y1="564.62" x2="660.35" y2="564.62" stroke="#1a1a1a" stroke-width="1.6"/>
<line x1="656.75" y1="588.23" x2="660.35" y2="588.23" stroke="#1a1a1a" stroke-width="1.6"/>
<line x1="696.50" y1="619.10" x2="696.50" y2="638.42" stroke="#1a1a1a" stroke-width="1.1"/>
<line x1="694.70" y1="619.10" x2="698.30" y2="619.10" stroke="#1a1a1a" stroke-width="1.6"/>
<line x1="694.70" y1="638.42" x2="698.30" y2="638.42" stroke="#1a1a1a" stroke-width="1.6"/>
<line x1="477.6" y1="744.4" x2="742.6" y2="744.4" stroke="#111" stroke-width="1.1"/>
<line x1="477.6" y1="546.3" x2="742.6" y2="546.3" stroke="#111" stroke-width="1.1"/>
<line x1="742.6" y1="546.3" x2="742.6" y2="744.4" stroke="#111" stroke-width="1.1"/>
<line x1="477.6" y1="546.3" x2="477.6" y2="744.4" stroke="#111" stroke-width="1.1"/>
<text x="472.80" y="750.40" font-size="14.5" fill="#111" text-anchor="end" font-weight="normal" >0</text>
<text x="472.80" y="717.38" font-size="14.5" fill="#111" text-anchor="end" font-weight="normal" >20</text>
<text x="472.80" y="684.37" font-size="14.5" fill="#111" text-anchor="end" font-weight="normal" >40</text>
<text x="472.80" y="651.35" font-size="14.5" fill="#111" text-anchor="end" font-weight="normal" >60</text>
<text x="472.80" y="618.33" font-size="14.5" fill="#111" text-anchor="end" font-weight="normal" >80</text>
<text x="472.80" y="585.32" font-size="14.5" fill="#111" text-anchor="end" font-weight="normal" >100</text>
<text x="472.80" y="552.30" font-size="14.5" fill="#111" text-anchor="end" font-weight="normal" >120</text>
<text x="0" y="0" font-size="14.65" fill="#111" text-anchor="middle" transform="translate(442.3,647.5) rotate(-90)">Activity on J774A.1 cells (%)</text>
<text x="0" y="0" font-size="14.5" fill="#111" text-anchor="end" transform="translate(557,762) rotate(-16)">CyaA</text>
<text x="0" y="0" font-size="14.5" fill="#111" text-anchor="end" transform="translate(702,760.6) rotate(-17.5)">CyaA-G537A</text>
<rect x="491.95" y="529.75" width="7.00" height="7.00" fill="#000" stroke="#111" stroke-width="1.3"/>
<text x="509.80" y="537.50" font-size="14.7" fill="#111" text-anchor="start" font-weight="normal" >Binding</text>
<rect x="592.05" y="528.15" width="7.80" height="7.80" fill="#a0a0a0" stroke="#111" stroke-width="1.3"/>
<text x="614.60" y="537.50" font-size="14.7" fill="#111" text-anchor="start" font-weight="normal" >cAMP intoxication</text>
<text x="0" y="0" font-size="14.5" fill="#111" stroke="#111" stroke-width="0.3" transform="translate(688.76,597.84) rotate(90)">**</text>
</svg>
</body></html>
